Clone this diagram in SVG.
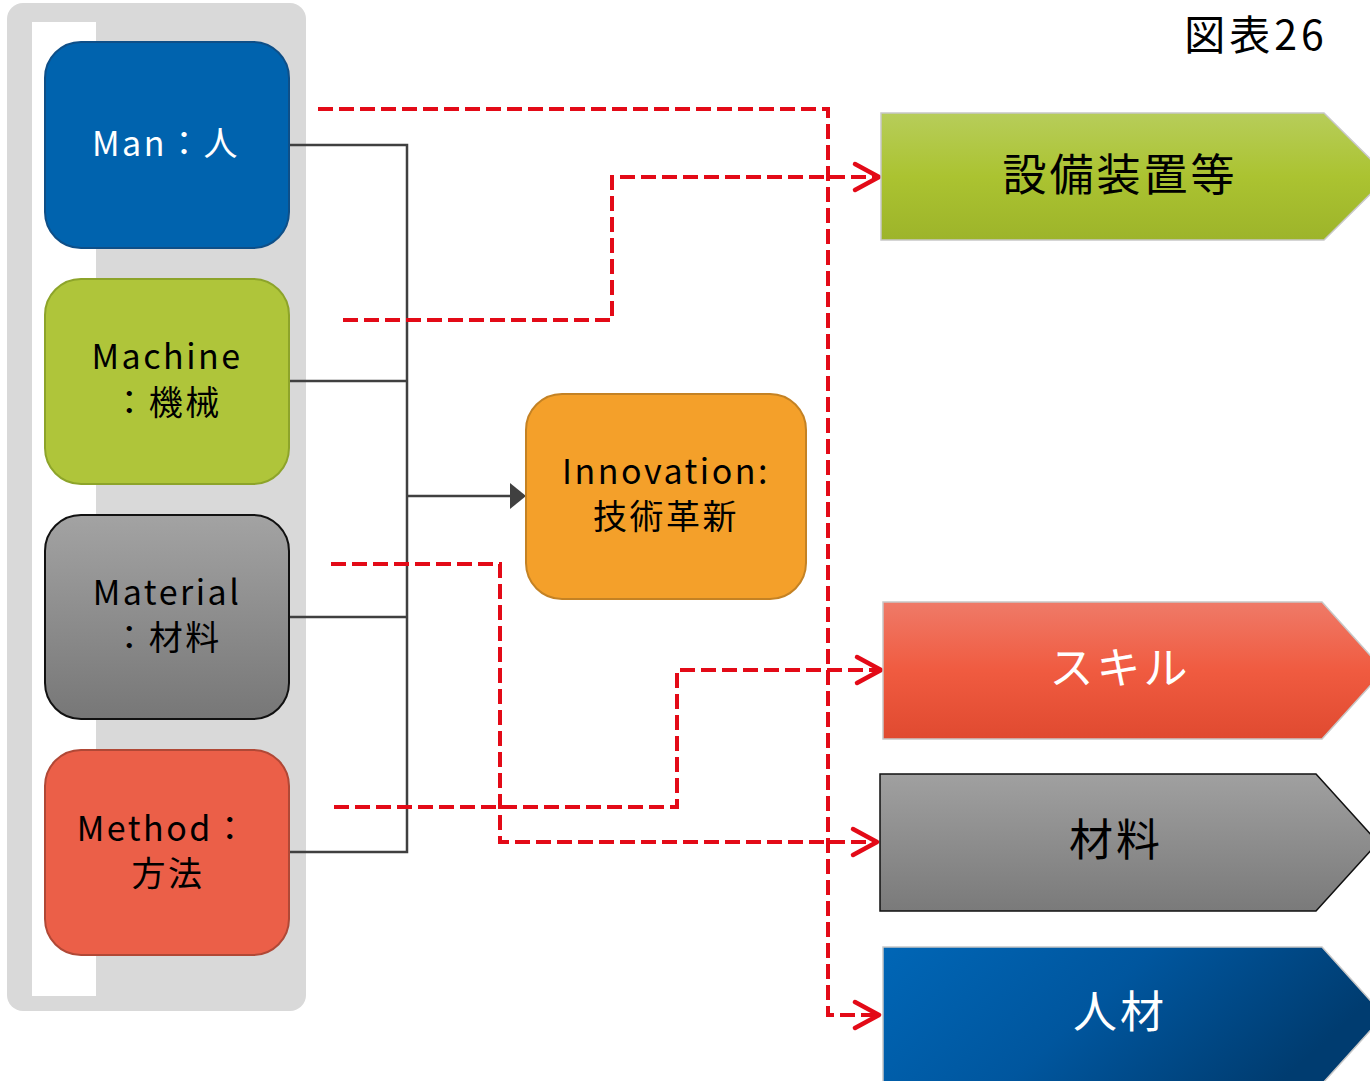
<svg xmlns="http://www.w3.org/2000/svg" width="1370" height="1081" viewBox="0 0 1370 1081">
<style>
text{font-family:"Noto Sans CJK JP","Noto Sans",sans-serif;text-anchor:middle}
.nt{font-size:34px;letter-spacing:2.5px}
.ct{font-size:44px;letter-spacing:3px}
.tt{font-size:41px;letter-spacing:4px}
.gl{fill:none;stroke:#404040;stroke-width:2.5}
.rd{fill:none;stroke:#E30A17;stroke-width:4;stroke-dasharray:15 6;marker-end:url(#ah)}
.node{stroke-width:2}
.chev{stroke:#C8C8C8;stroke-width:1.5}
</style>
<defs>
<linearGradient id="gGray" x1="0" y1="0" x2="0" y2="1"><stop offset="0" stop-color="#A3A3A3"/><stop offset="1" stop-color="#777777"/></linearGradient>
<linearGradient id="gGreen" x1="0" y1="0" x2="0" y2="1"><stop offset="0" stop-color="#B7CD5A"/><stop offset="0.5" stop-color="#ABC331"/><stop offset="1" stop-color="#9DB42A"/></linearGradient>
<linearGradient id="gRed" x1="0" y1="0" x2="0" y2="1"><stop offset="0" stop-color="#EF7A68"/><stop offset="0.5" stop-color="#F05B40"/><stop offset="1" stop-color="#E04A30"/></linearGradient>
<linearGradient id="gGray2" x1="0" y1="0" x2="0" y2="1"><stop offset="0" stop-color="#A0A0A0"/><stop offset="1" stop-color="#7A7A7A"/></linearGradient>
<linearGradient id="gBlue" x1="0" y1="0" x2="1" y2="0.3"><stop offset="0" stop-color="#0066B6"/><stop offset="0.5" stop-color="#00569E"/><stop offset="1" stop-color="#003C70"/></linearGradient>
<marker id="ah" markerUnits="userSpaceOnUse" markerWidth="32" markerHeight="34" viewBox="0 0 32 34" refX="28" refY="17" orient="auto">
<path d="M4,4 L28,17 L4,30" fill="none" stroke="#E30A17" stroke-width="4.5" stroke-linecap="round" stroke-linejoin="round"/>
</marker>
</defs>

<g id="panel">
<rect x="7" y="3" width="299" height="1008" rx="16" fill="#D9D9D9"/>
<rect x="32" y="22" width="64" height="974" fill="#FFFFFF"/>
</g>

<g id="title"><text x="1256" y="50" class="tt" fill="#000">図表26</text></g>

<g id="connectors">
<path class="gl" d="M289,145 H407 V852 H289"/>
<path class="gl" d="M289,381 H407"/>
<path class="gl" d="M289,617 H407"/>
<path class="gl" d="M407,496 H512"/>
<polygon points="510,483 526,496 510,509" fill="#404040"/>
<path class="rd" d="M318,109 H828 V1015 H879"/>
<path class="rd" d="M343,320 H612 V177 H879"/>
<path class="rd" d="M331,564 H500 V842 H877"/>
<path class="rd" d="M334,807 H677 V670 H881"/>
</g>

<g id="man">
<rect class="node" x="45" y="42" width="244" height="206" rx="36" fill="#0063AE" stroke="#0E4F88"/>
<text x="166" y="156" class="nt" fill="#FFFFFF">Man：人</text>
</g>
<g id="machine">
<rect class="node" x="45" y="279" width="244" height="205" rx="36" fill="#AFC53A" stroke="#8DA42A"/>
<text x="167" y="369" class="nt" fill="#000">Machine</text>
<text x="167" y="415" class="nt" fill="#000">：機械</text>
</g>
<g id="material">
<rect class="node" x="45" y="515" width="244" height="204" rx="36" fill="url(#gGray)" stroke="#111" stroke-width="1.5"/>
<text x="167" y="605" class="nt" fill="#000">Material</text>
<text x="167" y="650" class="nt" fill="#000">：材料</text>
</g>
<g id="method">
<rect class="node" x="45" y="750" width="244" height="205" rx="36" fill="#EB5F48" stroke="#B04836"/>
<text x="163" y="841" class="nt" fill="#000">Method：</text>
<text x="168" y="886" class="nt" fill="#000">方法</text>
</g>
<g id="innovation">
<rect class="node" x="526" y="394" width="280" height="205" rx="36" fill="#F4A02A" stroke="#C48224"/>
<text x="666" y="484" class="nt" fill="#000">Innovation:</text>
<text x="666" y="529" class="nt" fill="#000">技術革新</text>
</g>

<g id="equipment">
<polygon class="chev" points="881,113 1324,113 1388,176.5 1324,240 881,240" fill="url(#gGreen)"/>
<text x="1120" y="191" class="ct" fill="#000">設備装置等</text>
</g>
<g id="skill">
<polygon class="chev" points="883,602 1322,602 1384,670.5 1322,739 883,739" fill="url(#gRed)"/>
<text x="1120" y="684" class="ct" fill="#FFFFFF">スキル</text>
</g>
<g id="materials">
<polygon points="880,774 1316,774 1378,842.5 1316,911 880,911" fill="url(#gGray2)" stroke="#111" stroke-width="1.5"/>
<text x="1116" y="856" class="ct" fill="#000">材料</text>
</g>
<g id="talent">
<polygon class="chev" points="883,947 1322,947 1384,1015.5 1322,1084 883,1084" fill="url(#gBlue)"/>
<text x="1120" y="1028" class="ct" fill="#FFFFFF">人材</text>
</g>
</svg>
